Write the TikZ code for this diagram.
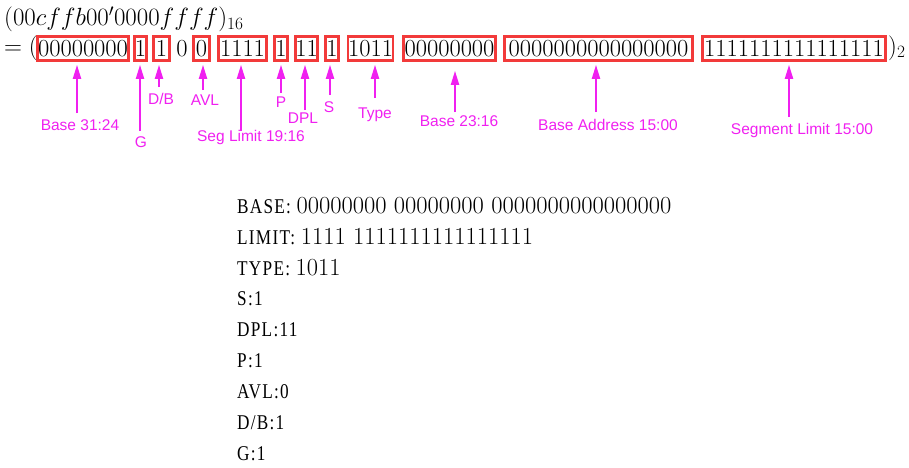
\documentclass[tikz,border=0pt]{standalone}
\usepackage{amsmath}
\usepackage{fontspec}
\setsansfont{Liberation Sans}
\newfontfamily\songfont[FakeStretch=0.82, LetterSpace=6]{Liberation Serif}
\usetikzlibrary{arrows.meta}
\definecolor{boxred}{RGB}{242,58,58}
\definecolor{tagpink}{RGB}{240,32,240}
\newcommand{\digits}{\fontsize{24.5}{24.5}\selectfont}
\newcommand{\hexsize}{\fontsize{23}{23}\selectfont}
\newcommand{\tagfont}{\sffamily\fontsize{15.5}{16}\selectfont}

\begin{document}
\begin{tikzpicture}[x=1pt, y=-1pt,
  fld/.style={draw=boxred, line width=2.6pt, minimum height=24pt, inner sep=0pt, font=\digits},
  tag/.style={text=tagpink, font=\tagfont, inner sep=0pt},
  ptr/.style={draw=tagpink, line width=2pt, shorten >=3pt, -{Triangle[length=14pt,width=8pt]}},
  row/.style={anchor=west, inner sep=0pt, font=\songfont\fontsize{21}{21}\selectfont}]
  \useasboundingbox (0,0) rectangle (909,467);

  % descriptor as hex, then as bits
  \node[anchor=west, inner sep=0pt, font=\hexsize] (hex) at (4,19.5) {$(00cffb00'0000ffff)_{16}$};
  \node[anchor=west, inner sep=0pt, font=\hexsize] (eq) at (4,48) {$=($};
  \node[fld, minimum width=91pt] (b3124) at (83,48.5) {00000000};
  \node[fld, minimum width=12pt] (g) at (140.5,48.5) {1};
  \node[fld, minimum width=16pt] (db) at (161.5,48.5) {1};
  \node[font=\digits, inner sep=0pt] (zero) at (182,48.5) {0};
  \node[fld, minimum width=16pt] (avl) at (201.5,48.5) {0};
  \node[fld, minimum width=48pt] (l1916) at (242.5,48.5) {1111};
  \node[fld, minimum width=13pt] (p) at (281,48.5) {1};
  \node[fld, minimum width=22pt] (dpl) at (306.5,48.5) {11};
  \node[fld, minimum width=13pt] (s) at (332,48.5) {1};
  \node[fld, minimum width=44pt] (type) at (370.5,48.5) {1011};
  \node[fld, minimum width=92pt] (b2316) at (449.5,48.5) {00000000};
  \node[fld, minimum width=188pt] (b1500) at (598.5,48.5) {0000000000000000};
  \node[fld, minimum width=183pt] (l1500) at (794,48.5) {1111111111111111};
  \node[anchor=west, inner sep=0pt, font=\hexsize] (close) at (888,48) {$)_2$};

  % field names
  \node[tag] (tb3124) at (80,125) {Base 31:24};
  \node[tag] (tg) at (141,142) {G};
  \node[tag] (tdb) at (161,99) {D/B};
  \node[tag] (tavl) at (205,100) {AVL};
  \node[tag] (tl1916) at (251,137) {Seg Limit 19:16};
  \node[tag] (tp) at (281,102) {P};
  \node[tag] (tdpl) at (303,118) {DPL};
  \node[tag] (ts) at (329,107) {S};
  \node[tag] (ttype) at (375,115) {Type};
  \node[tag] (tb2316) at (459,121) {Base 23:16};
  \node[tag] (tb1500) at (608,125) {Base Address 15:00};
  \node[tag] (tl1500) at (802,130) {Segment Limit 15:00};

  \coordinate (ab3124) at (77,113);
  \coordinate (ag) at (140,131);
  \coordinate (adb) at (159,87);
  \coordinate (aavl) at (203,90);
  \coordinate (al1916) at (241,131);
  \coordinate (ap) at (281,93);
  \coordinate (adpl) at (305,110);
  \coordinate (as) at (330,95);
  \coordinate (atype) at (375,98);
  \coordinate (ab2316) at (455,112);
  \coordinate (ab1500) at (596,112);
  \coordinate (al1500) at (789,117);
  \draw[ptr] (ab3124) -- (ab3124 |- b3124.south);
  \draw[ptr] (ag) -- (ag |- g.south);
  \draw[ptr] (adb) -- (adb |- db.south);
  \draw[ptr] (aavl) -- (aavl |- avl.south);
  \draw[ptr] (al1916) -- (al1916 |- l1916.south);
  \draw[ptr] (ap) -- (ap |- p.south);
  \draw[ptr] (adpl) -- (adpl |- dpl.south);
  \draw[ptr] (as) -- (as |- s.south);
  \draw[ptr] (atype) -- (atype |- type.south);
  \draw[ptr, shorten >=9pt] (ab2316) -- (ab2316 |- b2316.south);
  \draw[ptr] (ab1500) -- (ab1500 |- b1500.south);
  \draw[ptr] (al1500) -- (al1500 |- l1500.south);

  % decoded fields
  \node[row] (rbase) at (237,206) {BASE: {\rmfamily\digits 00000000 00000000 0000000000000000}};
  \node[row] (rlimit) at (237,237) {LIMIT: {\rmfamily\digits 1111 1111111111111111}};
  \node[row] (rtype) at (237,268) {TYPE: {\rmfamily\digits 1011}};
  \node[row] (rs) at (237,299) {S:1};
  \node[row] (rdpl) at (237,330) {DPL:11};
  \node[row] (rp) at (237,361) {P:1};
  \node[row] (ravl) at (237,392) {AVL:0};
  \node[row] (rdb) at (237,423) {D/B:1};
  \node[row] (rg) at (237,454) {G:1};
\end{tikzpicture}
\end{document}
